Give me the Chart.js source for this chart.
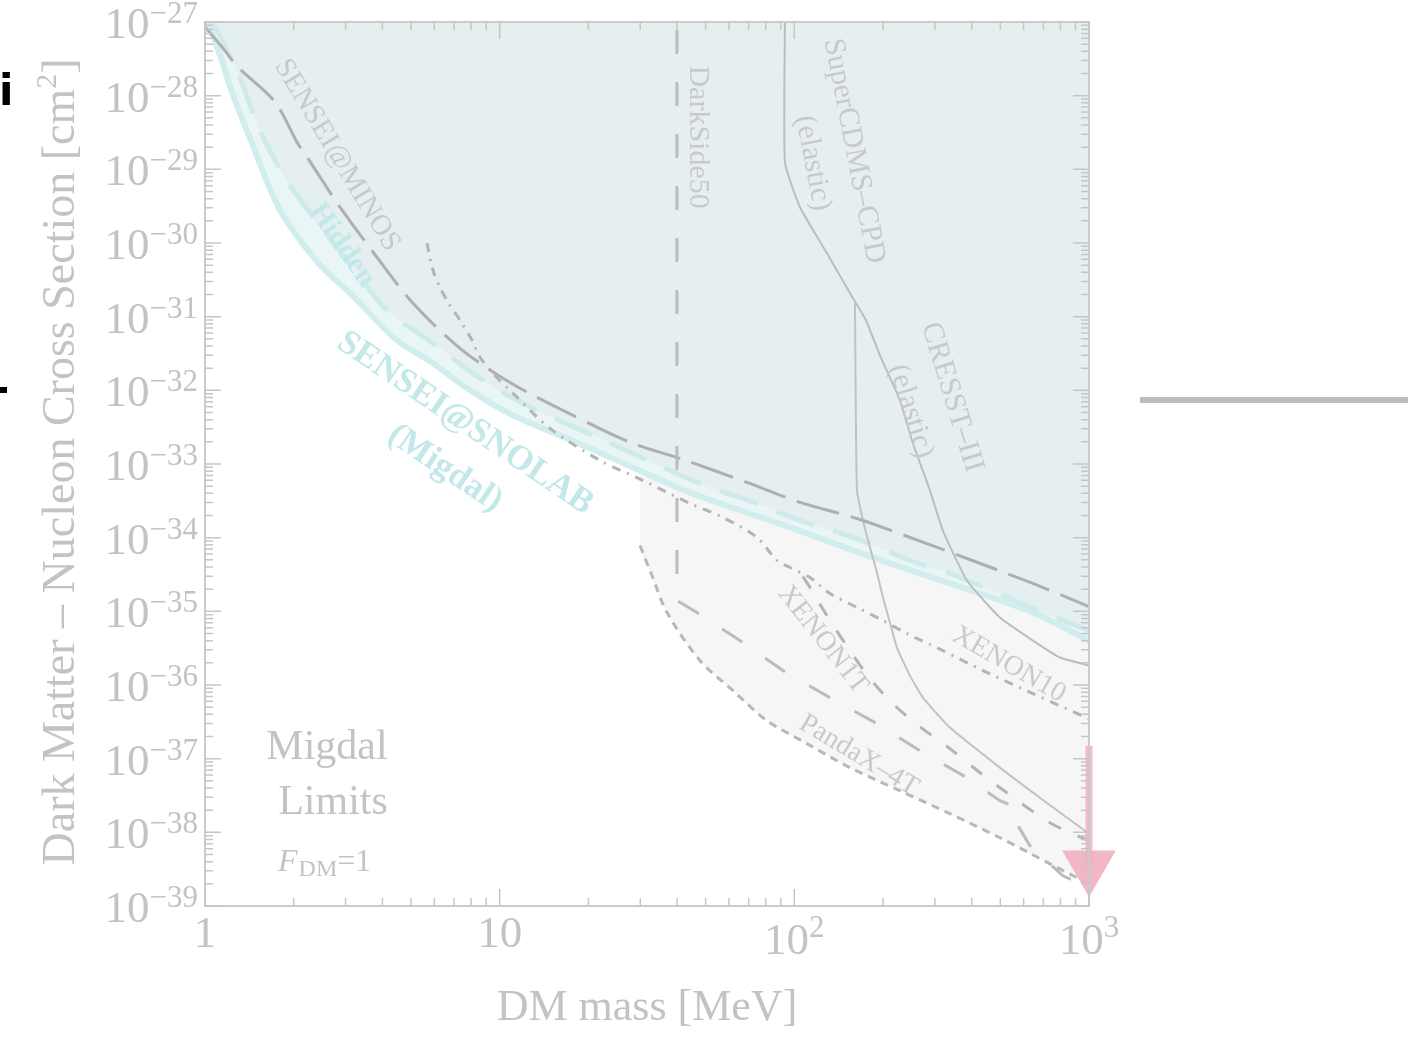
<!DOCTYPE html>
<html>
<head>
<meta charset="utf-8">
<title>Migdal limits</title>
<script src="https://cdn.jsdelivr.net/npm/chart.js@4.4.1/dist/chart.umd.min.js"></script>
<style>
  html, body { margin: 0; padding: 0; background: #fff; overflow: hidden; }
  canvas { display: block; }
</style>
</head>
<body>
<canvas id="limits" width="1408" height="1037"></canvas>
<script>
// axis ticks
const massTicks = [1, 10, 100, 1000];
const massTickBase = ['1', '10', '10', '10'];
const massTickPower = ['', '', '2', '3'];
const sigmaTickPowers = [-27, -28, -29, -30, -31, -32, -33, -34, -35, -36, -37, -38, -39];

// limit curves: [DM mass (MeV), cross section (cm^2)]
const senseiSnolab = [
  [1.024, 1e-27], [1.124, 3.56e-28], [1.245, 1.02e-28], [1.421, 2.65e-29], [1.797, 2.79e-30],
  [2.43, 5.3e-31], [3.16, 1.95e-31], [4.482, 4.78e-32], [5.939, 2.33e-32], [7.93, 1.0e-32],
  [11.1, 4.57e-33], [16.92, 2.23e-33], [25.0, 1.12e-33], [44.23, 4.11e-34], [96.62, 1.38e-34],
  [184.9, 5.38e-35], [337.3, 2.39e-35], [645.2, 9.63e-36], [1000, 4.01e-36]
];
const senseiHidden = [
  [1.064, 1e-27], [1.151, 5.35e-28], [1.315, 1.73e-28], [1.561, 2.92e-29], [1.943, 6.10e-30],
  [2.805, 8.77e-31], [4.146, 1.22e-31], [5.939, 4.35e-32], [8.776, 1.37e-32], [12.97, 5.69e-33],
  [20.73, 2.45e-33], [28.34, 1.39e-33], [47.82, 5.45e-34], [74.68, 2.92e-34], [102.0, 1.77e-34],
  [158.1, 1.01e-34], [246.8, 4.90e-35], [337.3, 3.26e-35], [697.5, 9.63e-36], [1000, 5.48e-36]
];
const senseiMinos = [
  [1, 8.55e-28], [1.142, 4.57e-28], [1.294, 2.45e-28], [1.728, 8.19e-29], [2.052, 2.34e-29],
  [2.219, 1.47e-29], [2.872, 3.06e-30], [3.833, 6.41e-31], [5.08, 1.52e-31], [7.333, 3.72e-32],
  [10.84, 1.28e-32], [16.92, 5.02e-33], [27.68, 1.97e-33], [40.91, 1.19e-33], [69.07, 5.62e-34],
  [104.5, 3.01e-34], [163.1, 1.82e-34], [252.6, 9.75e-35], [385.3, 5.21e-35], [645.2, 2.39e-35],
  [1000, 1.16e-35]
];
const xenon10 = [
  [5.666, 9.94e-31], [5.939, 4.27e-31], [6.272, 2.51e-31], [6.676, 1.57e-31], [7.333, 8.93e-32],
  [8.054, 4.78e-32], [8.574, 2.81e-32], [9.491, 1.70e-32], [11.1, 9.10e-33], [14.82, 3.05e-33],
  [21.89, 1.12e-33], [30.64, 5.99e-34], [44.23, 2.92e-34], [57.25, 1.88e-34], [74.68, 1.01e-34],
  [87.3, 4.90e-35], [96.62, 3.94e-35], [113.0, 2.88e-35], [132.1, 1.75e-35], [163.1, 1.13e-35],
  [199.8, 7.50e-36], [241.1, 4.99e-36], [319.3, 2.93e-36], [436.5, 1.57e-36], [645.2, 7.64e-37],
  [1000, 3.49e-37]
];
const xenon1T = [
  [106.9, 2.97e-35], [114.7, 1.92e-35], [132.1, 7.50e-36], [154.5, 2.93e-36], [180.6, 1.22e-36],
  [219.5, 5.25e-37], [266.8, 2.72e-37], [337.3, 1.37e-37], [426.6, 6.45e-38], [498.6, 4.04e-38],
  [736.9, 1.35e-38], [1000, 7.69e-39]
];
const darkSide50 = [
  [39.96, 1e-27], [39.96, 1.40e-35], [46.71, 9.63e-36], [65.39, 4.01e-36], [91.49, 1.57e-36],
  [132.1, 6.74e-37], [190.7, 2.99e-37], [266.8, 1.28e-37], [385.3, 5.52e-38], [498.6, 2.69e-38],
  [569.3, 2.16e-38], [574.0, 1.23e-38], [630.3, 6.58e-39], [815.7, 2.57e-39], [1000, 1.77e-39]
];
const pandaX4T = [
  [29.93, 7.83e-35], [32.87, 3.06e-35], [36.97, 9.63e-36], [47.82, 2.15e-36], [61.89, 8.39e-37],
  [80.73, 3.28e-37], [110.4, 1.60e-37], [154.5, 7.55e-38], [228.2, 3.67e-38], [337.3, 1.79e-38],
  [498.6, 8.45e-39], [736.9, 3.74e-39], [1000, 2.00e-39]
];
const pandaXRegionTop = [29.93, 1e-32];
const superCdms = [
  [92.92, 1e-27], [92.92, 1.25e-29], [104.5, 3.06e-30], [129.0, 7.27e-31], [158.1, 1.78e-31],
  [175.0, 8.93e-32], [195.2, 2.99e-32], [228.2, 7.31e-33], [252.6, 1.91e-33], [288.5, 4.38e-34],
  [319.3, 1.25e-34], [385.3, 2.62e-35], [498.6, 8.24e-36], [645.2, 4.01e-36], [796.9, 2.36e-36],
  [1000, 1.84e-36]
];
const cresst3 = [
  [160.6, 1.52e-31], [163.1, 4.38e-34], [171.0, 1.71e-34], [180.6, 7.36e-35], [190.7, 3.37e-35],
  [199.8, 1.54e-35], [211.1, 7.05e-36], [222.9, 3.22e-36], [246.7, 1.34e-36], [273.2, 6.74e-37],
  [337.3, 2.64e-37], [498.6, 7.55e-38], [681.3, 2.95e-38], [1000, 9.57e-39]
];
// projected reach arrow at 1 GeV
const arrowPath = [[1000, 1.5e-37], [1000, 3.5e-39]];

// curve labels: text, mass, cross section, angle (deg), size, bold, cyan
const curveLabels = [
  ['SENSEI@MINOS', 2.805, 1.56e-29, 59, 29, false, false],
  ['Hidden', 2.917, 9.33e-31, 55, 30, true, true],
  ['SENSEI@SNOLAB', 7.626, 3.56e-33, 34, 35, true, true],
  ['(Migdal)', 6.523, 8.71e-34, 34, 35, true, true],
  ['DarkSide50', 47.09, 2.74e-29, 90, 30, false, false],
  ['SuperCDMS\u2013CPD', 159.3, 1.77e-29, 79, 30, false, false],
  ['(elastic)', 115.6, 1.21e-29, 79, 30, false, false],
  ['CRESST\u2013III', 342.6, 8.03e-33, 73, 30, false, false],
  ['(elastic)', 248.7, 5.19e-33, 73, 30, false, false],
  ['XENON1T', 125.0, 4.14e-36, 52, 28, false, false],
  ['XENON10', 534.9, 1.89e-36, 30, 28, false, false],
  ['PandaX\u20134T', 165.7, 1.10e-37, 31, 28, false, false]
];

const pts = arr => arr.map(([x, y]) => ({ x, y }));
const serif = '"Liberation Serif", "Times New Roman", serif';
const gray = '#c3c3c3';
const cyan = '#c3e8ea';

const annotations = {
  id: 'annotations',
  afterDatasetsDraw(chart) {
    const { ctx, chartArea: a, scales: { x, y } } = chart;
    ctx.save();

    // frame
    ctx.strokeStyle = '#cbcbcb';
    ctx.lineWidth = 2;
    ctx.strokeRect(a.left, a.top, a.right - a.left, a.bottom - a.top);

    // inward ticks on all four sides
    ctx.lineWidth = 1.5;
    ctx.strokeStyle = '#c6c6c6';
    ctx.beginPath();
    for (let e = -39; e <= -27; e++) {
      for (let m = 1; m <= 9; m++) {
        if (e === -27 && m > 1) break;
        const py = y.getPixelForValue(m * Math.pow(10, e));
        const len = m === 1 ? 16 : 8;
        ctx.moveTo(a.left, py); ctx.lineTo(a.left + len, py);
        ctx.moveTo(a.right, py); ctx.lineTo(a.right - len, py);
      }
    }
    for (let e = 0; e <= 3; e++) {
      for (let m = 1; m <= 9; m++) {
        if (e === 3 && m > 1) break;
        const px = x.getPixelForValue(m * Math.pow(10, e));
        const len = m === 1 ? 17 : 8;
        ctx.moveTo(px, a.bottom); ctx.lineTo(px, a.bottom - len);
        ctx.moveTo(px, a.top); ctx.lineTo(px, a.top + len);
      }
    }
    ctx.stroke();

    // tick labels
    ctx.fillStyle = gray;
    ctx.textAlign = 'left';
    ctx.textBaseline = 'alphabetic';
    sigmaTickPowers.forEach(p => {
      const py = y.getPixelForValue(Math.pow(10, p));
      const sup = '\u2212' + Math.abs(p);
      ctx.font = '31px ' + serif;
      const ws = ctx.measureText(sup).width;
      ctx.font = '45px ' + serif;
      const wb = ctx.measureText('10').width;
      const x0 = a.left - 7 - ws - wb;
      ctx.fillText('10', x0, py + 16);
      ctx.font = '31px ' + serif;
      ctx.fillText(sup, x0 + wb, py + 1);
    });
    massTicks.forEach((v, i) => {
      const px = x.getPixelForValue(v);
      const base = massTickBase[i], pow = massTickPower[i];
      ctx.font = '45px ' + serif;
      const wb = ctx.measureText(base).width;
      if (!pow) {
        ctx.fillText(base, px - wb / 2, a.bottom + 41);
      } else {
        ctx.font = '31px ' + serif;
        const ws = ctx.measureText(pow).width;
        const x0 = px - (wb + ws) / 2;
        ctx.font = '45px ' + serif;
        ctx.fillText(base, x0, a.bottom + 48);
        ctx.font = '31px ' + serif;
        ctx.fillText(pow, x0 + wb, a.bottom + 31);
      }
    });

    // axis titles
    ctx.font = '44px ' + serif;
    ctx.textAlign = 'center';
    ctx.fillText('DM mass [MeV]', (a.left + a.right) / 2, 1020);

    ctx.save();
    ctx.translate(74, 462);
    ctx.rotate(-Math.PI / 2);
    ctx.textAlign = 'left';
    const main = 'Dark Matter \u2013 Nucleon Cross Section [cm';
    ctx.font = '46px ' + serif;
    const w1 = ctx.measureText(main).width;
    const w3 = ctx.measureText(']').width;
    ctx.font = '30px ' + serif;
    const w2 = ctx.measureText('2').width;
    const cx = -(w1 + w2 + w3) / 2;
    ctx.font = '46px ' + serif;
    ctx.fillText(main, cx, 0);
    ctx.font = '30px ' + serif;
    ctx.fillText('2', cx + w1, -18);
    ctx.font = '46px ' + serif;
    ctx.fillText(']', cx + w1 + w2, 0);
    ctx.restore();

    // curve labels
    curveLabels.forEach(([text, m, s, deg, size, bold, isCyan]) => {
      ctx.save();
      ctx.translate(x.getPixelForValue(m), y.getPixelForValue(s));
      ctx.rotate(deg * Math.PI / 180);
      ctx.font = (bold ? 'bold ' : '') + size + 'px ' + serif;
      ctx.fillStyle = isCyan ? cyan : '#c9c9c9';
      ctx.textAlign = 'center';
      ctx.textBaseline = 'middle';
      ctx.fillText(text, 0, 0);
      ctx.restore();
    });

    // panel caption
    ctx.fillStyle = gray;
    ctx.textAlign = 'center';
    ctx.textBaseline = 'alphabetic';
    ctx.font = '42px ' + serif;
    ctx.fillText('Migdal', x.getPixelForValue(2.594), y.getPixelForValue(1e-37));
    ctx.fillText('Limits', x.getPixelForValue(2.719), y.getPixelForValue(1.79e-38));
    ctx.textAlign = 'left';
    let fx = x.getPixelForValue(1.769);
    const fy = y.getPixelForValue(3.01e-39);
    ctx.font = 'italic 32px ' + serif;
    ctx.fillText('F', fx, fy);
    fx += ctx.measureText('F').width + 1;
    ctx.font = '24px ' + serif;
    ctx.fillText('DM', fx, fy + 5);
    fx += ctx.measureText('DM').width;
    ctx.font = '32px ' + serif;
    ctx.fillText('=1', fx, fy);

    // marks along the page edges
    ctx.fillStyle = '#000';
    ctx.font = 'bold 42px "DejaVu Sans"';
    ctx.fillText('i', -1, 105);
    ctx.fillRect(0, 387, 7, 6);
    ctx.fillStyle = '#bdbdbd';
    ctx.fillRect(1140, 397, 268, 6);

    ctx.restore();
  }
};

const dashedGray = (data, dash, color, width) => ({
  data: pts(data), borderColor: color, borderWidth: width, borderDash: dash,
  fill: false, pointRadius: 0, tension: 0.3, order: 1
});

new Chart(document.getElementById('limits'), {
  type: 'line',
  data: {
    datasets: [
      {
        data: pts(arrowPath), borderColor: 'rgba(242,176,192,0.85)', borderWidth: 7,
        pointRadius: [0, 31], pointStyle: 'triangle', rotation: 180,
        pointBackgroundColor: 'rgba(242,176,192,0.9)', pointBorderWidth: 0,
        fill: false, clip: false, order: 0
      },
      dashedGray(xenon1T, [14, 18], '#b4b4b4', 3),
      Object.assign(dashedGray(darkSide50, [24, 28], '#bcbcbc', 3), { tension: 0, borderDashOffset: -8 }),
      dashedGray(pandaX4T, [8, 6], '#b8b8b8', 3),
      dashedGray(xenon10, [9, 7, 2, 7], '#b4b4b4', 3),
      dashedGray(senseiMinos, [44, 12], '#afafaf', 3),
      Object.assign(dashedGray(superCdms, [], '#bdbdbd', 2), { tension: 0.15 }),
      Object.assign(dashedGray(cresst3, [], '#c2c2c2', 2), { tension: 0.15 }),
      {
        data: pts(senseiHidden), borderColor: '#cfeaea', borderWidth: 5, borderDash: [40, 20],
        backgroundColor: '#e6eff0', fill: 'end', pointRadius: 0, tension: 0.3, order: 3
      },
      {
        data: pts(senseiSnolab), borderColor: '#d2eded', borderWidth: 6,
        backgroundColor: '#eaf5f5', fill: 'end', pointRadius: 0, tension: 0.3, order: 4
      },
      {
        data: pts([pandaXRegionTop, ...pandaX4T]), borderWidth: 0, borderColor: 'rgba(0,0,0,0)',
        backgroundColor: '#f6f6f6', fill: 'end', pointRadius: 0, tension: 0.3, order: 5
      }
    ]
  },
  options: {
    responsive: false,
    devicePixelRatio: 1,
    animation: false,
    events: [],
    layout: { autoPadding: false, padding: { left: 205, top: 22, right: 319, bottom: 131 } },
    scales: {
      x: { type: 'logarithmic', min: 1, max: 1000, display: false },
      y: { type: 'logarithmic', min: 1e-39, max: 1e-27, display: false }
    },
    plugins: { legend: { display: false }, tooltip: { enabled: false } }
  },
  plugins: [annotations]
});
</script>
</body>
</html>
